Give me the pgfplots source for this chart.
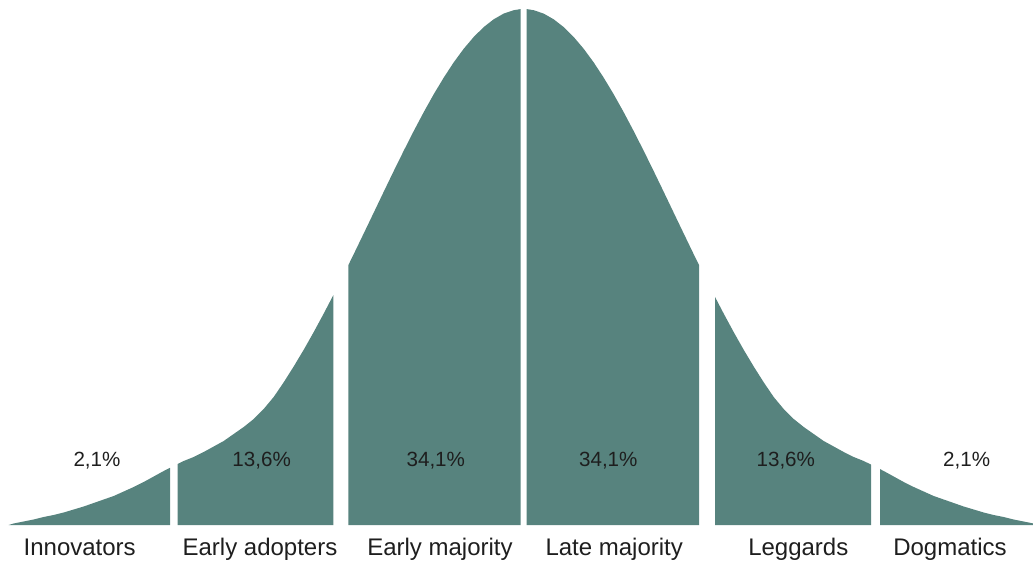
\documentclass[border=0pt]{standalone}
\usepackage{fontspec}
\setmainfont{Liberation Sans}
\usepackage{pgfplots}
\pgfplotsset{compat=1.18}
\definecolor{bell}{RGB}{87,131,126}
\definecolor{txt}{RGB}{30,30,30}
\begin{document}
\begin{tikzpicture}
\begin{axis}[
  width=516.5pt, height=281.5pt, scale only axis,
  xmin=0, xmax=1033, ymin=-38, ymax=525,
  hide axis,
]
\coordinate (bl) at (rel axis cs:0,0);
\coordinate (tr) at (rel axis cs:1,1);
% Innovators
\addplot[fill=bell, draw=none] coordinates {
(8.7,0) (13.7,1.5) (23.7,3.5) (33.7,5.5) (43.7,8) (53.7,10) (63.7,12.5) (73.7,15.5)
(83.7,18.5) (93.7,22) (103.7,25.5) (113.7,29) (123.7,33.5) (133.7,38) (143.7,43)
(153.7,48.5) (163.7,54) (170,57.2) (170,0)} -- cycle;
% Early adopters
\addplot[fill=bell, draw=none] coordinates {
(177.5,0) (177.5,60.9) (183.7,64) (193.7,68) (203.7,73) (213.7,78.5) (223.7,84)
(233.7,91) (243.7,98) (253.7,106) (263.7,116) (273.7,128) (283.7,142.7) (293.7,158.5)
(303.7,175.2) (313.7,192.9) (323.7,211.4) (333.3,229.8) (333.3,0)} -- cycle;
% Early majority
\addplot[fill=bell, draw=none] coordinates {
(348.3,0) (348.3,259.8) (353.7,270.8) (363.7,291.5) (373.7,312.3) (383.7,333.2)
(393.7,353.9) (403.7,374.2) (413.7,393.9) (423.7,412.8) (433.7,430.7) (443.7,447.3)
(453.7,462.6) (463.7,476.2) (473.7,488.0) (483.7,497.9) (493.7,505.7) (503.7,511.4)
(513.7,514.8) (520.7,515.9) (520.7,0)} -- cycle;
% Late majority
\addplot[fill=bell, draw=none] coordinates {
(526.7,0) (526.7,515.9) (533.7,514.8) (543.7,511.4) (553.7,505.7) (563.7,497.9)
(573.7,488.0) (583.7,476.2) (593.7,462.6) (603.7,447.3) (613.7,430.7) (623.7,412.8)
(633.7,393.9) (643.7,374.2) (653.7,353.9) (663.7,333.2) (673.7,312.3) (683.7,291.5)
(693.7,270.8) (699,260) (699,0)} -- cycle;
% Leggards
\addplot[fill=bell, draw=none] coordinates {
(715,0) (715,228.1) (723.7,211.4) (733.7,192.9) (743.7,175.2) (753.7,158.5)
(763.7,142.7) (773.7,128) (783.7,116) (793.7,106) (803.7,98) (813.7,91) (823.7,84)
(833.7,78.5) (843.7,73) (853.7,68) (863.7,64) (871,60.4) (871,0)} -- cycle;
% Dogmatics
\addplot[fill=bell, draw=none] coordinates {
(880,0) (880,55.9) (883.7,54) (893.7,48.5) (903.7,43) (913.7,38) (923.7,33.5)
(933.7,29) (943.7,25.5) (953.7,22) (963.7,18.5) (973.7,15.5) (983.7,12.5)
(993.7,10) (1003.7,8) (1013.7,5.5) (1023.7,3.5) (1033.7,1.5) (1038.7,0)} -- cycle;

% percentages
\begin{scope}[every node/.style={font=\fontsize{10.3pt}{12pt}\selectfont, text=txt, anchor=base, inner sep=0pt}]
\node at (axis cs:97,58.5) {2,1\%};
\node at (axis cs:261.7,58.5) {13,6\%};
\node at (axis cs:435.8,58.5) {34,1\%};
\node at (axis cs:608.3,58.5) {34,1\%};
\node at (axis cs:785.8,58.5) {13,6\%};
\node at (axis cs:966.7,58.5) {2,1\%};
\end{scope}
% categories
\begin{scope}[every node/.style={font=\fontsize{12pt}{14pt}\selectfont, text=txt, anchor=base, inner sep=0pt}]
\node at (axis cs:79.7,-30) {Innovators};
\node at (axis cs:260,-30) {Early adopters};
\node at (axis cs:440,-30) {Early majority};
\node at (axis cs:614.2,-30) {Late majority};
\node at (axis cs:798.3,-30) {Leggards};
\node at (axis cs:950,-30) {Dogmatics};
\end{scope}
\end{axis}
\pgfresetboundingbox
\path[use as bounding box] (bl) rectangle (tr);
\end{tikzpicture}
\end{document}
